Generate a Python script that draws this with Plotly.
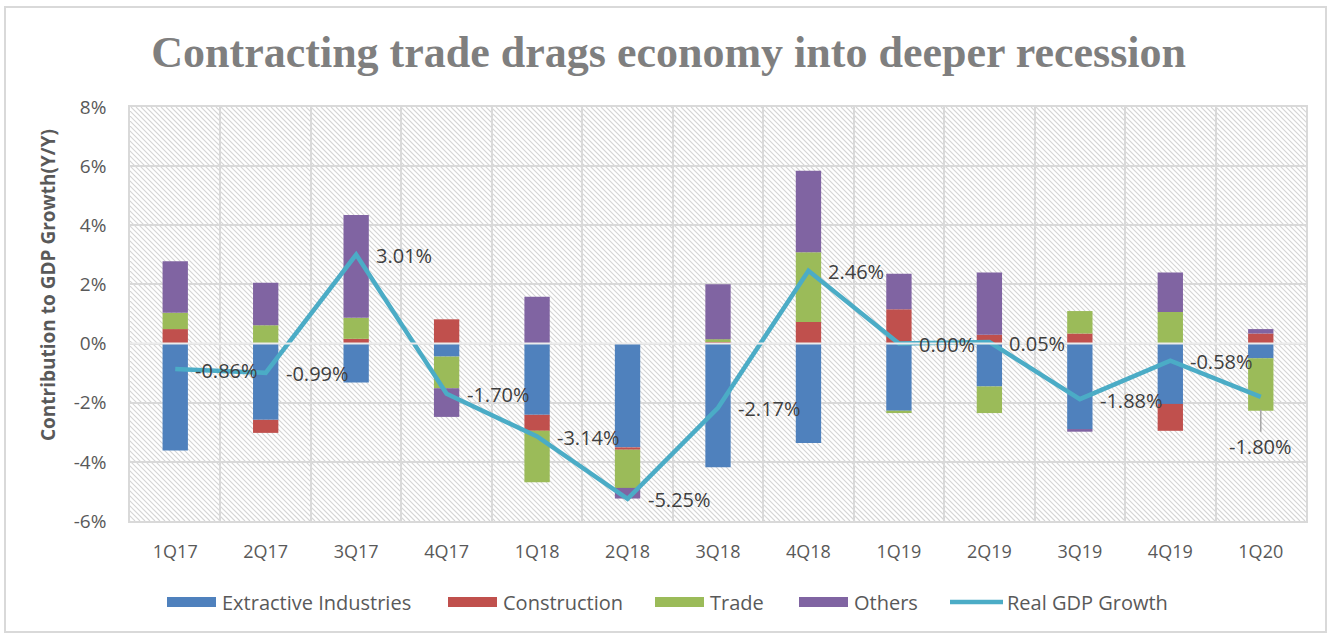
import base64
import plotly.graph_objects as go

quarters = ["1Q17", "2Q17", "3Q17", "4Q17", "1Q18", "2Q18", "3Q18",
            "4Q18", "1Q19", "2Q19", "3Q19", "4Q19", "1Q20"]
extractive = [-3.62, -2.58, -1.32, -0.44, -2.41, -3.51, -4.18, -3.36, -2.27, -1.45, -2.89, -2.04, -0.50]
construction = [0.49, -0.44, 0.16, 0.82, -0.54, -0.08, 0.05, 0.73, 1.16, 0.30, 0.34, -0.91, 0.34]
trade = [0.55, 0.62, 0.71, -1.07, -1.74, -1.29, 0.10, 2.36, -0.08, -0.90, 0.76, 1.07, -1.77]
others = [1.74, 1.44, 3.48, -0.97, 1.58, -0.36, 1.86, 2.75, 1.20, 2.10, -0.09, 1.33, 0.15]
gdp = [-0.86, -0.99, 3.01, -1.70, -3.14, -5.25, -2.17, 2.46, 0.00, 0.05, -1.88, -0.58, -1.80]
gdp_labels = ["-0.86%", "-0.99%", "3.01%", "-1.70%", "-3.14%", "-5.25%", "-2.17%",
              "2.46%", "0.00%", "0.05%", "-1.88%", "-0.58%", "-1.80%"]
ytick_vals = [-6, -4, -2, 0, 2, 4, 6, 8]
ytick_text = ["-6%", "-4%", "-2%", "0%", "2%", "4%", "6%", "8%"]

bar_series = [("Extractive Industries", extractive, "#4F81BD"),
              ("Construction", construction, "#C0504D"),
              ("Trade", trade, "#9BBB59"),
              ("Others", others, "#8064A2")]
line_name, line_color = "Real GDP Growth", "#4BACC6"

FONT = "Open Sans, Liberation Sans, sans-serif"
TXT = "#595959"

W, H = 1332, 633
ML, MR, MT, MB = 130, 26, 107, 112
PW, PH = W - ML - MR, H - MT - MB


def px_x(px):
    return (px - ML) / PW


def px_y(py):
    return (H - MB - py) / PH


# diagonal hatch background for the plot area
lines = []
step = 5
for k in range(-PH, PW + PH, step):
    lines.append(f'<line x1="{k}" y1="0" x2="{k + PH}" y2="{PH}"/>')
svg = (f'<svg xmlns="http://www.w3.org/2000/svg" width="{PW}" height="{PH}" '
       f'viewBox="0 0 {PW} {PH}" preserveAspectRatio="none">'
       f'<rect width="{PW}" height="{PH}" fill="#ffffff"/>'
       f'<g stroke="#d4d4d4" stroke-width="1.1">' + "".join(lines) + '</g></svg>')
hatch = "data:image/svg+xml;base64," + base64.b64encode(svg.encode()).decode()

fig = go.Figure()
for name, vals, col in bar_series:
    fig.add_trace(go.Bar(x=quarters, y=vals, name=name, marker_color=col,
                         marker_line_width=0, hoverinfo="skip"))
fig.add_trace(go.Scatter(x=quarters, y=gdp, name=line_name, mode="lines",
                         line=dict(color=line_color, width=4.5)))

annotations = []
for i, (q, v, t) in enumerate(zip(quarters, gdp, gdp_labels)):
    if i == len(quarters) - 1:
        annotations.append(dict(x=q, y=v, text=t, showarrow=True, arrowhead=0,
                                arrowcolor="#a6a6a6", arrowwidth=1.5, ax=0, ay=50,
                                standoff=13, font=dict(family=FONT, size=20, color="#404040")))
    else:
        annotations.append(dict(x=q, y=v, text=t, showarrow=False, xanchor="left",
                                xshift=18, yshift=-1,
                                font=dict(family=FONT, size=20, color="#404040")))
annotations.append(dict(xref="paper", yref="paper", x=px_x(48), y=px_y(285),
                        xanchor="center", yanchor="middle",
                        text="<b>Contribution to GDP Growth(Y/Y)</b>", textangle=-90,
                        showarrow=False, font=dict(family=FONT, size=19, color=TXT)))

shapes = [dict(type="line", xref="paper", yref="y", x0=0, x1=1, y0=0, y1=0,
               line=dict(color="#ececec", width=2), layer="above"),
          dict(type="rect", xref="paper", yref="paper",
               x0=px_x(5), x1=px_x(1326), y0=px_y(632), y1=px_y(7),
               line=dict(color="#d9d9d9", width=2), layer="below")]

# custom legend (wide swatches as in the reference)
legend_y = 602
swatch_x = [167, 448, 655, 799]
for (name, _, col), x0 in zip(bar_series, swatch_x):
    shapes.append(dict(type="rect", xref="paper", yref="paper",
                       x0=px_x(x0), x1=px_x(x0 + 49), y0=px_y(legend_y + 5), y1=px_y(legend_y - 5),
                       fillcolor=col, line=dict(width=0)))
    annotations.append(dict(xref="paper", yref="paper", x=px_x(x0 + 53), y=px_y(legend_y),
                            xanchor="left", yanchor="middle", text=name, showarrow=False,
                            font=dict(family=FONT, size=20, color=TXT)))
shapes.append(dict(type="line", xref="paper", yref="paper",
                   x0=px_x(950), x1=px_x(1003), y0=px_y(legend_y), y1=px_y(legend_y),
                   line=dict(color=line_color, width=4.5)))
annotations.append(dict(xref="paper", yref="paper", x=px_x(1005), y=px_y(legend_y),
                        xanchor="left", yanchor="middle", text=line_name, showarrow=False,
                        font=dict(family=FONT, size=20, color=TXT)))

fig.update_layout(
    width=W, height=H,
    margin=dict(l=ML, r=MR, t=MT, b=MB),
    paper_bgcolor="white", plot_bgcolor="white",
    barmode="relative", bargap=0.72, showlegend=False,
    title=dict(text="<b>Contracting trade drags economy into deeper recession</b>",
               x=0.502, xanchor="center", y=0.918, yanchor="middle",
               font=dict(family="Liberation Serif, serif", size=44, color="#7f7f7f")),
    xaxis=dict(type="category", tickson="boundaries", showgrid=True, gridcolor="#d9d9d9",
               gridwidth=2, ticks="", showline=True, linecolor="#d9d9d9", linewidth=1.5,
               mirror=True, ticklabelstandoff=14,
               tickfont=dict(family=FONT, size=18, color=TXT)),
    yaxis=dict(range=[-6, 8], tickvals=ytick_vals, ticktext=ytick_text, showgrid=True,
               gridcolor="#d9d9d9", gridwidth=2, zeroline=False, showline=True,
               linecolor="#d9d9d9", linewidth=1.5, mirror=True, ticklabelstandoff=18,
               tickfont=dict(family=FONT, size=19, color=TXT)),
    annotations=annotations,
    shapes=shapes,
    images=[dict(source=hatch, xref="paper", yref="paper", x=0, y=1, sizex=1, sizey=1,
                 xanchor="left", yanchor="top", sizing="stretch", layer="below")],
)
fig.write_html("out.html")
